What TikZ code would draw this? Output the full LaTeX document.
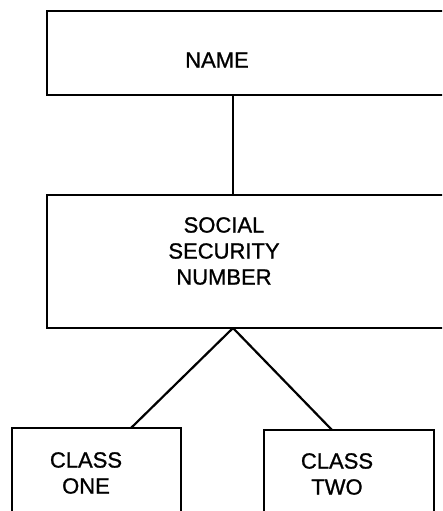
\documentclass[tikz,border=0pt]{standalone}
\usepackage{fontspec}
\setmainfont{Liberation Sans}[FakeBold=1]
\begin{document}
\begin{tikzpicture}[x=1pt,y=1pt,
  box/.style={draw,line width=2.4pt,inner sep=0pt,outer sep=0pt},
  lbl/.style={font=\fontsize{22}{26}\selectfont,align=center,inner sep=0pt},
  conn/.style={line width=2.2pt}]
\useasboundingbox (0,0) rectangle (442,-511);
\clip (0,0) rectangle (442,-511);
\node[box,minimum width=403pt,minimum height=84pt] (name) at (248.5,-53) {};
\node[box,minimum width=403pt,minimum height=133pt] (ssn) at (248.5,-261.5) {};
\node[box,minimum width=169pt,minimum height=92pt] (one) at (96.5,-474) {};
\node[box,minimum width=170pt,minimum height=90pt] (two) at (349,-475) {};
\node[lbl] (nametxt) at (217,-60) {NAME};
\node[lbl] (ssntxt) at (224,-251) {SOCIAL\\SECURITY\\NUMBER};
\node[lbl] (onetxt) at (86,-473) {CLASS\\ONE};
\node[lbl] (twotxt) at (337,-474) {CLASS\\TWO};
\coordinate (stem) at (233,0);
\coordinate (lft) at (131,0);
\coordinate (rgt) at (332,0);
\draw[conn] (name.south -| stem) -- (ssn.north -| stem);
\draw[conn] (ssn.south -| stem) -- (one.north -| lft);
\draw[conn] (ssn.south -| stem) -- (two.north -| rgt);
\end{tikzpicture}
\end{document}
